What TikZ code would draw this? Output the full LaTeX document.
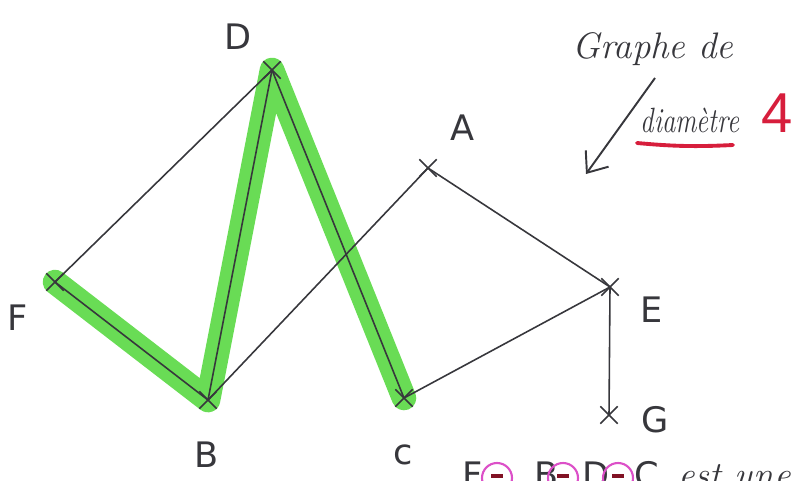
\documentclass[tikz,border=0pt]{standalone}
\usepackage{fontspec}
\setsansfont{DejaVu Sans}
\newfontfamily\fourfont{Liberation Sans}
\usetikzlibrary{shapes.misc,arrows.meta}
\definecolor{ink}{RGB}{55,55,60}
\definecolor{hl}{RGB}{105,220,85}
\definecolor{redink}{RGB}{215,30,60}
\definecolor{pinkink}{RGB}{220,80,200}
\tikzset{
  edge/.style={draw=ink,line width=0.9pt},
  hilite/.style={draw=hl,line width=14pt,line cap=round,line join=round},
  vmark/.style={cross out,draw=ink,line width=0.9pt,minimum size=9pt,inner sep=0pt},
  vlabel/.style={text=ink,font=\sffamily\fontsize{20}{24}\selectfont},
  hand/.style={text=ink,font=\itshape\fontsize{21}{25}\selectfont},
}
\begin{document}
\begin{tikzpicture}[x=0.02cm,y=-0.02cm]
\useasboundingbox (0,0) rectangle (797,480);
\clip (0,0) rectangle (797,480);
% vertices
\coordinate (D) at (272,70);
\coordinate (A) at (428,168);
\coordinate (F) at (55,282);
\coordinate (B) at (208,400);
\coordinate (C) at (404,398);
\coordinate (E) at (610,287);
\coordinate (G) at (609,415);
% highlighted path
\draw[hilite] (F) -- (B) -- (D) -- (C);
% edges
\draw[edge] (D) -- (F);
\draw[edge] (D) -- (B);
\draw[edge] (D) -- (C);
\draw[edge] (F) -- (B);
\draw[edge] (A) -- (B);
\draw[edge] (A) -- (E);
\draw[edge] (C) -- (E);
\draw[edge] (E) -- (G);
% vertex marks
\foreach \v in {D,A,F,B,C,E,G} \node[vmark] (m\v) at (\v) {};
% labels
\node[vlabel] (lD) at (238,37) {D};
\node[vlabel] (lA) at (463,128) {A};
\node[vlabel] (lF) at (18,318) {F};
\node[vlabel] (lB) at (207,455) {B};
\node[vlabel] (lC) at (403,455) {c};
\node[vlabel] (lE) at (652,310) {E};
\node[vlabel] (lG) at (655,420) {G};
% title
\node[hand,anchor=base west] (t1) at (566,58) {Graphe de};
\node[hand,font=\itshape\fontsize{20}{24}\selectfont,xscale=0.76,anchor=base west] (t2) at (636,132) {diamètre};
\node[text=redink,font=\fourfont\fontsize{32}{36}\selectfont,anchor=base] (t4) at (777,132) {4};
\coordinate (u1) at (637,143);
\coordinate (u2) at (733,145);
\draw[draw=redink,line width=2.2pt,line cap=round] (u1) to[bend right=4] (u2);
\coordinate (ar1) at (655,78);
\coordinate (ar2) at (586,174);
\draw[edge,line width=1.1pt,-{Straight Barb[length=10pt,width=16pt]}] (ar1) -- (ar2);
% bottom text (cut off at the lower edge, as in the reference)
\node[vlabel,anchor=base west] (b1) at (456,487) {F};
\node[vlabel,anchor=base west] (b2) at (528,487) {B};
\node[vlabel,anchor=base west] (b3) at (576,487) {D};
\node[vlabel,anchor=base west] (b4) at (628,487) {C};
\node[hand,anchor=base west] (b5) at (672,487) {est une};
\foreach \x in {497,563,618} {
  \draw[pinkink,line width=1.2pt] (\x,478) circle (15);
  \draw[draw=redink!60!black,line width=2pt] (\x-6,476) -- (\x+6,476);
}
\end{tikzpicture}
\end{document}
